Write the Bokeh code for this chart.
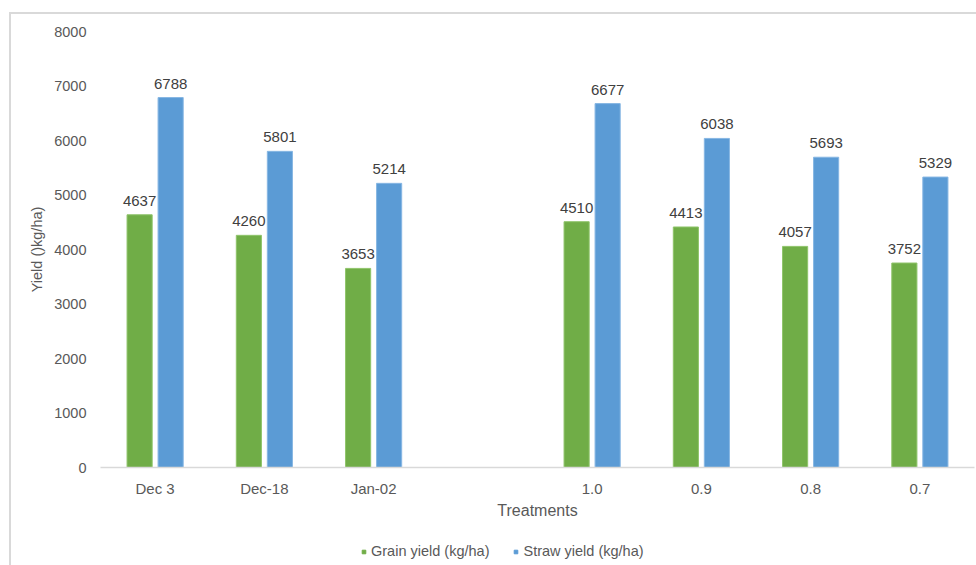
from bokeh.plotting import figure
from bokeh.layouts import column
from bokeh.models import (ColumnDataSource, FactorRange, FixedTicker, LabelSet,
                          Legend, LegendItem, Range1d)
from bokeh.core.properties import value
from bokeh.transform import dodge
from bokeh.embed import file_html
from bokeh.resources import INLINE

categories = ["Dec 3", "Dec-18", "Jan-02", " ", "1.0", "0.9", "0.8", "0.7"]
bar_categories = ["Dec 3", "Dec-18", "Jan-02", "1.0", "0.9", "0.8", "0.7"]
grain_yield = [4637, 4260, 3653, 4510, 4413, 4057, 3752]
straw_yield = [6788, 5801, 5214, 6677, 6038, 5693, 5329]
y_ticks = [0, 1000, 2000, 3000, 4000, 5000, 6000, 7000, 8000]
series_names = ["Grain yield (kg/ha)", "Straw yield (kg/ha)"]

FONT = "Liberation Sans"
TXT = "#595959"
GREEN = "#70AD47"
BLUE = "#5B9BD5"

src = ColumnDataSource(dict(
    cat=bar_categories,
    grain=grain_yield,
    straw=straw_yield,
    grain_txt=[str(v) for v in grain_yield],
    straw_txt=[str(v) for v in straw_yield],
))

p = figure(width=965, height=516, output_backend="svg", toolbar_location=None,
           x_range=FactorRange(*categories, range_padding=0),
           y_range=Range1d(0, 8000),
           min_border_left=89, min_border_right=2, min_border_top=17,
           min_border_bottom=63)
p.outline_line_color = None
p.xgrid.grid_line_color = None
p.ygrid.grid_line_color = None

off = 0.142
w = 0.23
g = p.vbar(x=dodge("cat", -off, range=p.x_range), top="grain", width=w, source=src,
           fill_color=GREEN, line_color="#8fc46a", line_width=1)
s = p.vbar(x=dodge("cat", off, range=p.x_range), top="straw", width=w, source=src,
           fill_color=BLUE, line_color="#86b6e3", line_width=1)

for col, txt, o in (("grain", "grain_txt", -off), ("straw", "straw_txt", off)):
    p.add_layout(LabelSet(x=dodge("cat", o, range=p.x_range), y=col, text=txt, source=src,
                          text_align="center", text_baseline="alphabetic", y_offset=9,
                          text_font=value(FONT), text_font_size=value("15px"),
                          text_color="#404040"))

# y axis
ya = p.yaxis[0]
ya.ticker = FixedTicker(ticks=y_ticks)
ya.axis_line_color = None
ya.major_tick_line_color = None
ya.minor_tick_line_color = None
ya.major_label_standoff = 8
ya.major_label_text_font = FONT
ya.major_label_text_font_size = "14.5px"
ya.major_label_text_color = TXT
ya.axis_label = "Yield ()kg/ha)"
ya.axis_label_text_font = FONT
ya.axis_label_text_font_size = "14.5px"
ya.axis_label_text_font_style = "normal"
ya.axis_label_text_color = TXT
ya.axis_label_standoff = 6

# x axis
xa = p.xaxis[0]
xa.axis_line_color = "#d9d9d9"
xa.axis_line_width = 1.5
xa.major_tick_line_color = None
xa.minor_tick_line_color = None
xa.major_label_standoff = 6
xa.major_label_text_font = FONT
xa.major_label_text_font_size = "15px"
xa.major_label_text_color = TXT
xa.axis_label = "Treatments"
xa.axis_label_text_font = FONT
xa.axis_label_text_font_size = "16px"
xa.axis_label_text_font_style = "normal"
xa.axis_label_text_color = TXT
xa.axis_label_standoff = 2

# legend strip (markers share the data but fall outside its visible range)
lg = figure(width=965, height=35, output_backend="svg", toolbar_location=None,
            x_axis_type=None, y_axis_type=None, x_range=Range1d(0, 1), y_range=Range1d(0, 1),
            min_border_left=89, min_border_right=2, min_border_top=0, min_border_bottom=0)
lg.outline_line_color = None
lg.xgrid.grid_line_color = None
lg.ygrid.grid_line_color = None
rg = lg.scatter(x="grain", y="grain", marker="square", size=9, source=src, color=GREEN)
rs = lg.scatter(x="straw", y="straw", marker="square", size=9, source=src, color=BLUE)
legend = Legend(items=[LegendItem(label=series_names[0], renderers=[rg]),
                       LegendItem(label=series_names[1], renderers=[rs])],
                orientation="horizontal", location=(259, 6),
                glyph_width=9, glyph_height=9, label_standoff=3, spacing=22,
                padding=0, margin=0, border_line_color=None,
                background_fill_alpha=0,
                label_text_font=FONT, label_text_font_size="14.5px",
                label_text_color=TXT, label_height=16)
lg.add_layout(legend, "center")

layout = column(p, lg, spacing=0,
                styles={"border-top": "2px solid #d9d9d9", "border-left": "2px solid #d9d9d9",
                        "margin-top": "12px", "margin-left": "9px"})

open("out.html", "w").write(file_html(layout, INLINE))
